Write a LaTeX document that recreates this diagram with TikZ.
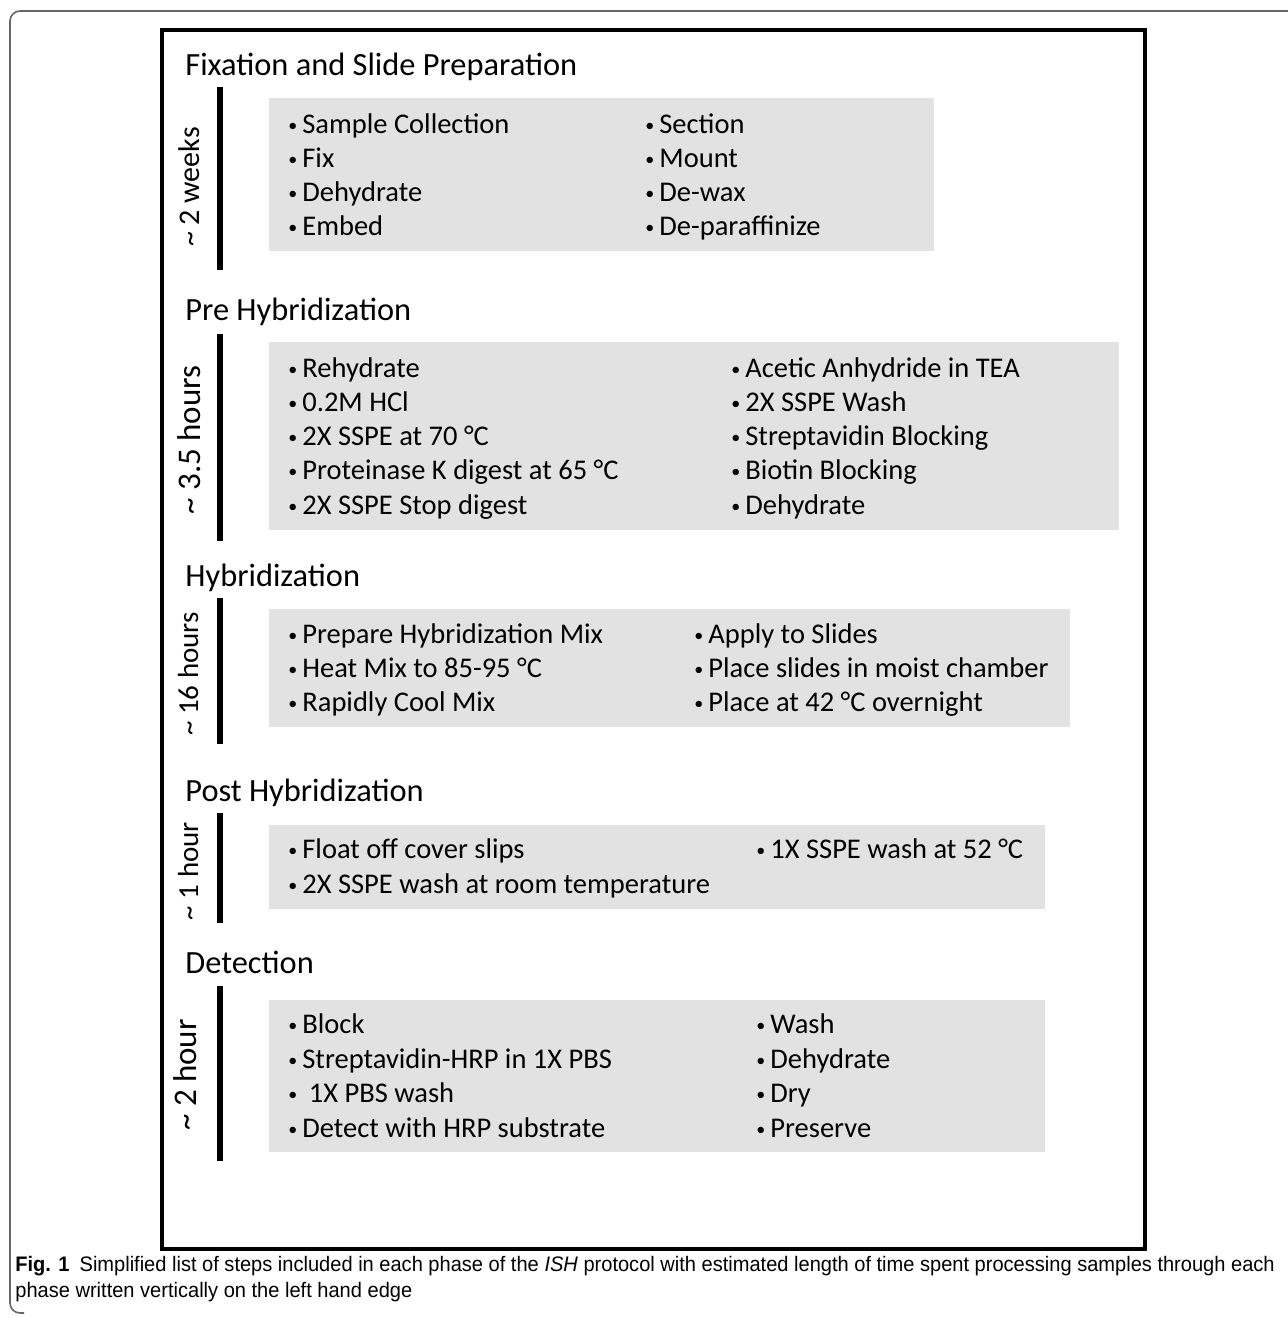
\documentclass[tikz,border=0pt]{standalone}
\usepackage{fontspec}
\setmainfont{Carlito}
\newfontfamily\capfont[FakeStretch=0.955]{Liberation Sans}
\usepackage{xcolor}
\usetikzlibrary{positioning}
\definecolor{PanelGray}{HTML}{E2E2E2}
\definecolor{FrameGray}{HTML}{666666}

\newcommand{\bul}{\makebox[8pt][l]{\hspace{1pt}\raisebox{0.9pt}{\fontsize{9}{9}\selectfont\textbullet}}}

\begin{document}
\begin{tikzpicture}[x=0.5pt, y=-0.5pt,
  phase/.style={anchor=base west, inner sep=0pt,
    font=\fontsize{16.2}{19}\selectfont},
  listitem/.style={anchor=base west, inner sep=0pt,
    font=\fontsize{14.25}{17}\selectfont},
  duration/.style={rotate=90, anchor=base, inner sep=0pt},
  panel/.style={fill=PanelGray, draw=none},
  timebar/.style={line width=2.7pt},
  caption/.style={anchor=base west, inner sep=0pt,
    font=\capfont\fontsize{10.5}{12}\selectfont}
]
\useasboundingbox (0,0) rectangle (1287,1318);

%% Caption frame + main frame
\draw[FrameGray, line width=0.8pt, rounded corners=5pt]
  (1295,11) -- (10,11) -- (10,1313) -- (24,1313);
\draw[line width=2.2pt] (162,30) rectangle (1145,1249);

%% Fixation and Slide Preparation
\node[phase] (fixhead) at (185,75) {Fixation and Slide Preparation};
\draw[timebar] (220,87) -- (220,270);
\node[duration, font=\fontsize{15}{17}\selectfont] (fixtime) at (199,187) {\textasciitilde\ 2 weeks};
\fill[panel] (269,98) rectangle (934,251);
\node[listitem] (fix1) at (286,133) {\bul Sample Collection};
\node[listitem] (fix2) at (286,167) {\bul Fix};
\node[listitem] (fix3) at (286,201) {\bul Dehydrate};
\node[listitem] (fix4) at (286,235) {\bul Embed};
\node[listitem] (fix5) at (643,133) {\bul Section};
\node[listitem] (fix6) at (643,167) {\bul Mount};
\node[listitem] (fix7) at (643,201) {\bul De-wax};
\node[listitem] (fix8) at (643,235) {\bul De-paraffinize};

%% Pre Hybridization
\node[phase] (prehead) at (185,320) {Pre Hybridization};
\draw[timebar] (220,334) -- (220,541);
\node[duration, font=\fontsize{16.5}{19}\selectfont] (pretime) at (200,440) {\textasciitilde\ 3.5 hours};
\fill[panel] (269,342) rectangle (1119,530);
\node[listitem] (pre1) at (286,377) {\bul Rehydrate};
\node[listitem] (pre2) at (286,411) {\bul 0.2M HCl};
\node[listitem] (pre3) at (286,445) {\bul 2X SSPE at 70 °C};
\node[listitem] (pre4) at (286,479) {\bul Proteinase K digest at 65 °C};
\node[listitem] (pre5) at (286,514) {\bul 2X SSPE Stop digest};
\node[listitem] (pre6) at (729,377) {\bul Acetic Anhydride in TEA};
\node[listitem] (pre7) at (729,411) {\bul 2X SSPE Wash};
\node[listitem] (pre8) at (729,445) {\bul Streptavidin Blocking};
\node[listitem] (pre9) at (729,479) {\bul Biotin Blocking};
\node[listitem] (pre10) at (729,514) {\bul Dehydrate};

%% Hybridization
\node[phase] (hybhead) at (185,586) {Hybridization};
\draw[timebar] (220,598) -- (220,744);
\node[duration, font=\fontsize{14.5}{17}\selectfont] (hybtime) at (198,674) {\textasciitilde\ 16 hours};
\fill[panel] (269,609) rectangle (1070,727);
\node[listitem] (hyb1) at (286,643) {\bul Prepare Hybridization Mix};
\node[listitem] (hyb2) at (286,677) {\bul Heat Mix to 85-95 °C};
\node[listitem] (hyb3) at (286,711) {\bul Rapidly Cool Mix};
\node[listitem] (hyb4) at (692,643) {\bul Apply to Slides};
\node[listitem] (hyb5) at (692,677) {\bul Place slides in moist chamber};
\node[listitem] (hyb6) at (692,711) {\bul Place at 42 °C overnight};

%% Post Hybridization
\node[phase] (posthead) at (185,801) {Post Hybridization};
\draw[timebar] (220,813) -- (220,923);
\node[duration, font=\fontsize{14.5}{17}\selectfont] (posttime) at (198,871) {\textasciitilde\ 1 hour};
\fill[panel] (269,825) rectangle (1045,909);
\node[listitem] (post1) at (286,858) {\bul Float off cover slips};
\node[listitem] (post2) at (286,893) {\bul 2X SSPE wash at room temperature};
\node[listitem] (post3) at (754,858) {\bul 1X SSPE wash at 52 °C};

%% Detection
\node[phase] (dethead) at (185,973) {Detection};
\draw[timebar] (220,986) -- (220,1161);
\node[duration, font=\fontsize{16.5}{19}\selectfont] (dettime) at (196,1075) {\textasciitilde\ 2 hour};
\fill[panel] (269,1000) rectangle (1045,1152);
\node[listitem] (det1) at (286,1033) {\bul Block};
\node[listitem] (det2) at (286,1068) {\bul Streptavidin-HRP in 1X PBS};
\node[listitem] (det3) at (286,1102) {\bul\ 1X PBS wash};
\node[listitem] (det4) at (286,1137) {\bul Detect with HRP substrate};
\node[listitem] (det5) at (754,1033) {\bul Wash};
\node[listitem] (det6) at (754,1068) {\bul Dehydrate};
\node[listitem] (det7) at (754,1102) {\bul Dry};
\node[listitem] (det8) at (754,1137) {\bul Preserve};

%% Caption
\node[caption] (cap1) at (15,1271) {\textbf{Fig. 1}\hspace{5pt}Simplified list of steps included in each phase of the \textit{ISH} protocol with estimated length of time spent processing samples through each};
\node[caption] (cap2) at (15,1297) {phase written vertically on the left hand edge};

\end{tikzpicture}
\end{document}
